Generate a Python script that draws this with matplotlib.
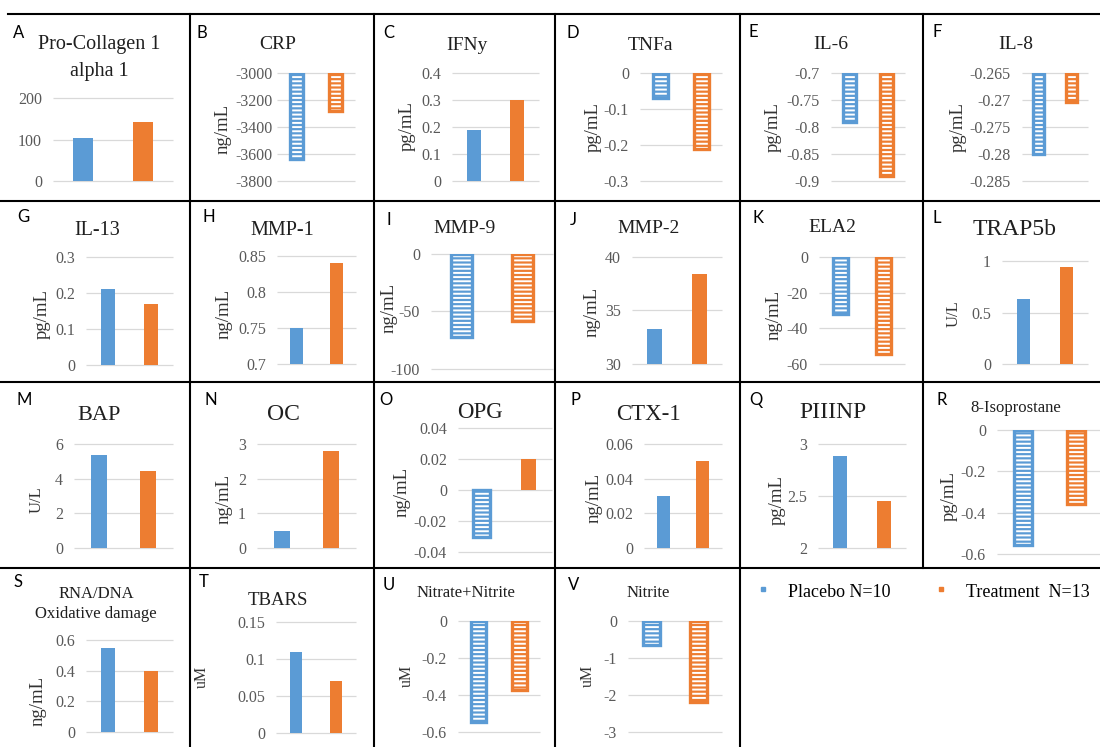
import matplotlib
matplotlib.use("Agg")
import matplotlib.pyplot as plt
from matplotlib.lines import Line2D
import numpy as np

# ---- data ----
letters = list("ABCDEFGHIJKLMNOPQRSTUV")
titles = ["Pro-Collagen 1\nalpha 1", "CRP", "IFNy", "TNFa", "IL-6", "IL-8",
          "IL-13", "MMP-1", "MMP-9", "MMP-2", "ELA2", "TRAP5b",
          "BAP", "OC", "OPG", "CTX-1", "PIIINP", "8-Isoprostane",
          "RNA/DNA\nOxidative damage", "TBARS", "Nitrate+Nitrite", "Nitrite"]
units = ["", "ng/mL", "pg/mL", "pg/mL", "pg/mL", "pg/mL",
         "pg/mL", "ng/mL", "ng/mL", "ng/mL", "ng/mL", "U/L",
         "U/L", "ng/mL", "ng/mL", "ng/mL", "pg/mL", "pg/mL",
         "ng/mL", "uM", "uM", "uM"]
placebo = [103, -3640, 0.19, -0.07, -0.79, -0.28,
           0.21, 0.75, -72, 33.3, -32, 0.63,
           5.35, 0.49, -0.03, 0.03, 2.88, -0.555,
           0.55, 0.11, -0.545, -0.65]
treatment = [142, -3280, 0.30, -0.21, -0.89, -0.2703,
             0.17, 0.84, -58, 38.4, -54.5, 0.94,
             4.45, 2.81, 0.02, 0.05, 2.45, -0.358,
             0.40, 0.07, -0.373, -2.18]
y_min = [0, -3800, 0, -0.3, -0.9, -0.285,
         0, 0.7, -100, 30, -60, 0,
         0, 0, -0.04, 0, 2, -0.6,
         0, 0, -0.6, -3]
y_max = [200, -3000, 0.4, 0, -0.7, -0.265,
         0.3, 0.85, 0, 40, 0, 1,
         6, 3, 0.04, 0.06, 3, 0,
         0.6, 0.15, 0, 0]
y_step = [100, 200, 0.1, 0.1, 0.05, 0.005,
          0.1, 0.05, 50, 5, 20, 0.5,
          2, 1, 0.02, 0.02, 0.5, 0.2,
          0.2, 0.05, 0.2, 1]
legend_labels = ["Placebo N=10", "Treatment  N=13"]

# ---- layout (pixels) ----
W, H = 1100, 747
axes_px = [(53, 98, 173, 181), (277, 73, 355, 181), (452, 73, 539, 181),
           (640, 73, 722, 181), (831, 73, 905, 181), (1022, 73, 1088, 181),
           (86, 257, 173, 365), (277, 256, 356, 364), (431, 254, 553, 369),
           (632, 257, 722, 364), (819, 257, 905, 364), (1002, 261, 1088, 364),
           (74, 444, 173, 548), (257, 444, 356, 548), (458, 428, 552, 552),
           (644, 444, 722, 548), (818, 444, 906, 548), (997, 430, 1102, 554),
           (86, 640, 173, 732), (276, 622, 356, 733), (458, 621, 540, 732),
           (628, 621, 722, 732)]
title_xy = [(99, 49), (278, 49), (467, 50), (650, 50), (831, 49), (1016, 49),
            (97, 235), (282, 235), (465, 233), (649, 233), (832, 232), (1015, 235),
            (99, 420), (283, 420), (480, 418), (648, 420), (833, 418), (1016, 412),
            (96, 598), (278, 605), (466, 597), (648, 597)]
title_size = [14.5, 14, 14, 14, 14, 14, 14.5, 14.5, 14, 14, 14, 17,
              16, 17, 16.5, 16.5, 17, 12, 12, 13.5, 12, 12]
title_gap = {0: 27, 18: 20}
letter_xy = [(13, 38), (197, 38), (383, 38), (567, 38), (749, 37), (933, 37),
             (17, 222), (203, 222), (386, 225), (570, 225), (753, 223), (933, 223),
             (17, 405), (204, 405), (379, 405), (570, 405), (749, 405), (936, 405),
             (13, 587), (199, 587), (383, 590), (568, 590)]
ylabel_xy = [None, (223, 129), (407, 126), (593, 127), (773, 127), (958, 127),
             (42, 314), (224, 314), (389, 308), (592, 312), (774, 315), (954, 314),
             (37, 500), (224, 499), (402, 492), (594, 498), (777, 500), (949, 496),
             (38, 701), (202, 677), (407, 676), (588, 676)]
ylabel_size = {"ng/mL": 13.5, "pg/mL": 13.5, "U/L": 12, "uM": 11.5, "": 12}
tick_pad = [8] * 22
tick_pad[1] = 3

blue = "#5B9BD5"
orange = "#ED7D31"

plt.rcParams["font.family"] = ["Liberation Serif", "DejaVu Serif"]
plt.rcParams["hatch.linewidth"] = 1.4

fig = plt.figure(figsize=(W / 100, H / 100), dpi=100)


def fx(x):
    return x / W


def fy(y):
    return 1 - y / H


def fmt(v):
    v = round(v, 6)
    if abs(v) < 1e-12:
        v = 0.0
    return f"{v:g}"


for k in range(len(letters)):
    x0, y0, x1, y1 = axes_px[k]
    ax = fig.add_axes([fx(x0), fy(y1), (x1 - x0) / W, (y1 - y0) / H])
    ax.patch.set_visible(False)
    lo, hi = y_min[k], y_max[k]
    base = min(max(0, lo), hi)
    ticks = np.arange(lo, hi + y_step[k] / 2, y_step[k])
    ax.hlines(ticks, -0.5, 1.5, colors="#D9D9D9", linewidth=0.9, zorder=1, clip_on=False)
    for j, (val, col) in enumerate([(placebo[k], blue), (treatment[k], orange)]):
        if val < 0:
            # negative values: pattern fill with a solid outline
            ax.bar(j, val - base, bottom=base, width=0.35, color=col, edgecolor="white",
                   linewidth=0, hatch="----", zorder=2)
            ax.bar(j, val - base, bottom=base, width=0.35, fill=False, edgecolor=col,
                   linewidth=2.4, zorder=3)
        else:
            ax.bar(j, val - base, bottom=base, width=0.32, color=col, linewidth=0, zorder=2)
    ax.set_xlim(-0.5, 1.5)
    ax.set_ylim(lo, hi)
    ax.set_xticks([])
    ax.set_yticks(ticks)
    ax.set_yticklabels([fmt(t) for t in ticks])
    ax.tick_params(axis="y", length=0, pad=tick_pad[k], labelsize=11.5, labelcolor="#595959")
    for sp in ax.spines.values():
        sp.set_visible(False)

    # panel letter
    lx, ly = letter_xy[k]
    fig.text(fx(lx), fy(ly), letters[k], family=["Lato", "DejaVu Sans"], fontsize=12,
             color="#000000", ha="left", va="baseline")
    # title (one text per line)
    tx, ty = title_xy[k]
    for i, line in enumerate(titles[k].split("\n")):
        fig.text(fx(tx), fy(ty + i * title_gap.get(k, 0)), line, fontsize=title_size[k],
                 color="#1f1f1f", ha="center", va="baseline")
    # unit label
    if ylabel_xy[k] is not None:
        ux, uy = ylabel_xy[k]
        fig.text(fx(ux), fy(uy), units[k], fontsize=ylabel_size[units[k]], color="#333333",
                 rotation=90, ha="center", va="center")

# grid of panel borders
bw = 1.5
for y, xa in [(14, 8), (201, 0), (382, 0), (568, 0)]:
    fig.add_artist(Line2D([fx(xa), fx(1100)], [fy(y), fy(y)], color="black", lw=bw))
for x, yb in [(190, 747), (374, 747), (555, 747), (740, 747), (923, 568)]:
    fig.add_artist(Line2D([fx(x), fx(x)], [fy(14), fy(yb)], color="black", lw=bw))

# legend
for (mx, tx), col, lab in zip([(763, 788), (941, 966)], [blue, orange], legend_labels):
    fig.add_artist(Line2D([fx(mx)], [fy(589)], marker="s", markersize=3.5, color=col,
                          linestyle="none"))
    fig.text(fx(tx), fy(597), lab, fontsize=13, color="#000000", ha="left", va="baseline")

fig.savefig("out.png", dpi=100)
